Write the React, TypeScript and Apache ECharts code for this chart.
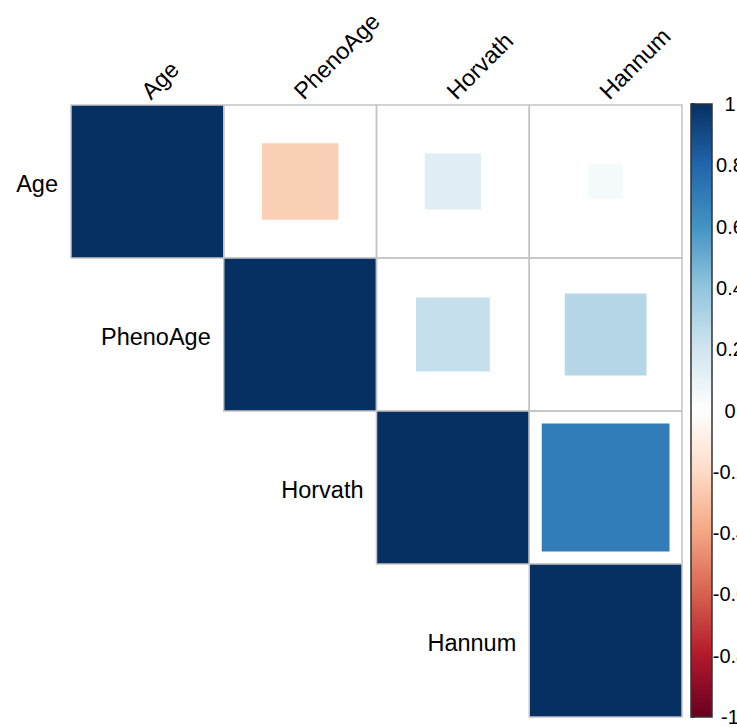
import React, { useEffect, useRef } from "react";
import * as echarts from "echarts";

const variables: string[] = ["Age", "PhenoAge", "Horvath", "Hannum"];
// upper-triangle correlations, one row per variable, starting at the diagonal
const ageRow: number[] = [1, -0.25, 0.135, 0.05];
const phenoRow: number[] = [1, 0.234, 0.287];
const horvathRow: number[] = [1, 0.7];
const hannumRow: number[] = [1];
const colorbarTicks: number[] = [-1, -0.8, -0.6, -0.4, -0.2, 0, 0.2, 0.4, 0.6, 0.8, 1];

const palette = [
  "#67001F", "#B2182B", "#D6604D", "#F4A582", "#FDDBC7", "#FFFFFF",
  "#D1E5F0", "#92C5DE", "#4393C3", "#2166AC", "#053061",
];

const FONT = "'Liberation Sans', Arial, Helvetica, sans-serif";

export default function App() {
  const ref = useRef<HTMLDivElement>(null);
  useEffect(() => {
    if (!ref.current) return;
    const chart = echarts.init(ref.current, undefined, { renderer: "svg" });
    const rows = [ageRow, phenoRow, horvathRow, hannumRow];
    const cells: [number, number, number][] = [];
    rows.forEach((row, i) => {
      row.forEach((r, k) => cells.push([i + k, i, r]));
    });
    const diag = variables.map((v, i) => [i, i]);
    const tops = variables.map((v, i) => [i, 0]);

    const option: any = {
      animation: false,
      backgroundColor: "#ffffff",
      grid: [
        { left: 71, top: 105, width: 611, height: 612, containLabel: false, outerBoundsMode: "none" },
        { left: 691, top: 104, width: 21, height: 613, containLabel: false, outerBoundsMode: "none" },
      ],
      xAxis: [
        {
          type: "category",
          data: variables,
          position: "top",
          gridIndex: 0,
          axisLine: { show: false },
          axisTick: { show: false },
          splitLine: { show: false },
          axisLabel: { show: false },
        },
        { type: "value", gridIndex: 1, show: false, min: 0, max: 1 },
      ],
      yAxis: [
        {
          type: "category",
          data: variables,
          inverse: true,
          gridIndex: 0,
          axisLine: { show: false },
          axisTick: { show: false },
          axisLabel: { show: false },
          splitLine: { show: false },
        },
        {
          type: "value",
          gridIndex: 1,
          min: -1,
          max: 1,
          interval: 0.2,
          position: "right",
          axisLine: { show: false },
          splitLine: { show: false },
          axisTick: { show: true, length: 4, lineStyle: { color: "#222", width: 1.5 } },
          axisLabel: {
            margin: 18,
            align: "center",
            fontSize: 20,
            color: "#000",
            fontFamily: FONT,
            formatter: (v: number) => {
              const t = colorbarTicks.find((x) => Math.abs(x - v) < 1e-6);
              return String(t !== undefined ? t : Math.round(v * 10) / 10);
            },
          },
        },
      ],
      visualMap: {
        show: false,
        type: "continuous",
        min: -1,
        max: 1,
        dimension: 2,
        seriesIndex: 0,
        inRange: { color: palette },
      },
      graphic: [
        {
          type: "rect",
          shape: { x: 691, y: 104, width: 21, height: 613 },
          style: {
            fill: {
              type: "linear",
              x: 0, y: 0, x2: 0, y2: 1,
              colorStops: palette
                .slice()
                .reverse()
                .map((c, i) => ({ offset: i / (palette.length - 1), color: c })),
            },
            stroke: "#333",
            lineWidth: 1.5,
          },
          z: 10,
        },
      ],
      series: [
        {
          type: "custom",
          xAxisIndex: 0,
          yAxisIndex: 0,
          data: cells,
          renderItem: (params: any, api: any) => {
            const xi = api.value(0);
            const yi = api.value(1);
            const r = api.value(2);
            const c = api.coord([xi, yi]);
            const sz = api.size([1, 1]);
            const w = sz[0];
            const h = sz[1];
            const s = Math.sqrt(Math.abs(r));
            return {
              type: "group",
              children: [
                {
                  type: "rect",
                  shape: { x: c[0] - (s * w) / 2, y: c[1] - (s * h) / 2, width: s * w, height: s * h },
                  style: { fill: api.visual("color") },
                },
                {
                  type: "rect",
                  shape: { x: c[0] - w / 2, y: c[1] - h / 2, width: w, height: h },
                  style: { fill: "none", stroke: "#C4C4C4", lineWidth: 1.5 },
                },
              ],
            };
          },
        },
        {
          type: "custom",
          xAxisIndex: 0,
          yAxisIndex: 0,
          data: diag,
          renderItem: (params: any, api: any) => {
            const i = api.value(0);
            const c = api.coord([i, i]);
            const sz = api.size([1, 1]);
            return {
              type: "text",
              x: c[0] - sz[0] / 2 - 13,
              y: c[1] + 2,
              style: {
                text: variables[i],
                fontSize: 23.5,
                fontFamily: FONT,
                fill: "#000",
                align: "right",
                verticalAlign: "middle",
              },
            };
          },
        },
        {
          type: "custom",
          xAxisIndex: 0,
          yAxisIndex: 0,
          data: tops,
          renderItem: (params: any, api: any) => {
            const i = api.value(0);
            const c = api.coord([i, 0]);
            const sz = api.size([1, 1]);
            return {
              type: "text",
              x: c[0] - 2,
              y: c[1] - sz[1] / 2 - 10,
              rotation: Math.PI / 4,
              style: {
                text: variables[i],
                fontSize: 23.5,
                fontFamily: FONT,
                fill: "#000",
                align: "left",
                verticalAlign: "middle",
              },
            };
          },
        },
      ],
    };
    chart.setOption(option);
    return () => chart.dispose();
  }, []);
  return (
    <div
      ref={ref}
      style={{ position: "fixed", left: 0, top: 0, width: 737, height: 727, overflow: "hidden" }}
    />
  );
}
